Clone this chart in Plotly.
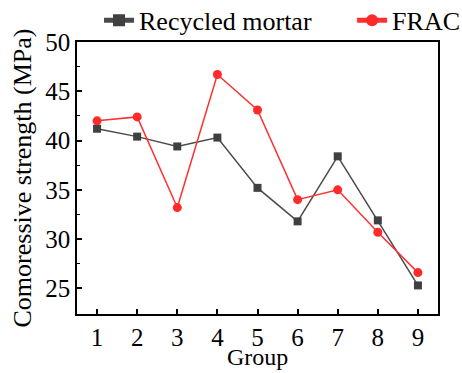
import plotly.graph_objects as go

groups = [1, 2, 3, 4, 5, 6, 7, 8, 9]
recycled_mortar = [41.2, 40.4, 39.4, 40.3, 35.2, 31.8, 38.4, 31.9, 25.3]
frac = [42.0, 42.4, 33.2, 46.7, 43.1, 34.0, 35.0, 30.7, 26.6]

FONT = "Liberation Serif, Times New Roman, serif"

fig = go.Figure()
fig.add_trace(go.Scatter(
    x=groups, y=recycled_mortar, name="Recycled mortar",
    mode="lines+markers", legend="legend",
    line=dict(color="#4a4a4a", width=1.5),
    marker=dict(symbol="square", size=8, color="#404040"),
))
fig.add_trace(go.Scatter(
    x=groups, y=frac, name="FRAC",
    mode="lines+markers", legend="legend2",
    line=dict(color="#ff3030", width=1.5),
    marker=dict(symbol="circle", size=9, color="#ff2a2a"),
))

legend_style = dict(
    orientation="h", xanchor="left", y=1.08, yanchor="middle",
    font=dict(family=FONT, size=26), bgcolor="rgba(0,0,0,0)",
    itemsizing="constant",
)

fig.update_layout(
    width=462, height=373,
    margin=dict(l=77, r=24, t=42, b=59, autoexpand=False),
    paper_bgcolor="white", plot_bgcolor="white",
    font=dict(family=FONT, color="black", size=25),
    showlegend=True,
    legend=dict(x=0.061, **legend_style),
    legend2=dict(x=0.762, **legend_style),
)

# x-axis title placed as a paper annotation, anchored to the bottom edge
fig.add_annotation(
    text="Group", xref="paper", yref="paper", x=0.5, y=-0.214,
    xanchor="center", yanchor="bottom", showarrow=False,
    font=dict(family=FONT, size=24, color="black"),
)

fig.update_xaxes(
    range=[0.5, 9.5], tickvals=groups, ticktext=[str(g) for g in groups],
    ticks="inside", ticklen=5, tickwidth=1.5, tickcolor="black",
    showline=True, linecolor="black", linewidth=1.5, mirror=True,
    showgrid=False, zeroline=False,
    tickfont=dict(family=FONT, size=25),
)
fig.update_yaxes(
    range=[22.4, 50], tickvals=[25, 30, 35, 40, 45, 50],
    ticks="inside", ticklen=5, tickwidth=1.5, tickcolor="black",
    minor=dict(tickvals=[27.5, 32.5, 37.5, 42.5, 47.5], ticks="inside",
               ticklen=3, tickwidth=1.2, tickcolor="black"),
    showline=True, linecolor="black", linewidth=1.5, mirror=True,
    showgrid=False, zeroline=False,
    title=dict(text="Comoressive strength (MPa)", font=dict(family=FONT, size=26), standoff=6),
    tickfont=dict(family=FONT, size=25),
)

fig.write_html("out.html")
